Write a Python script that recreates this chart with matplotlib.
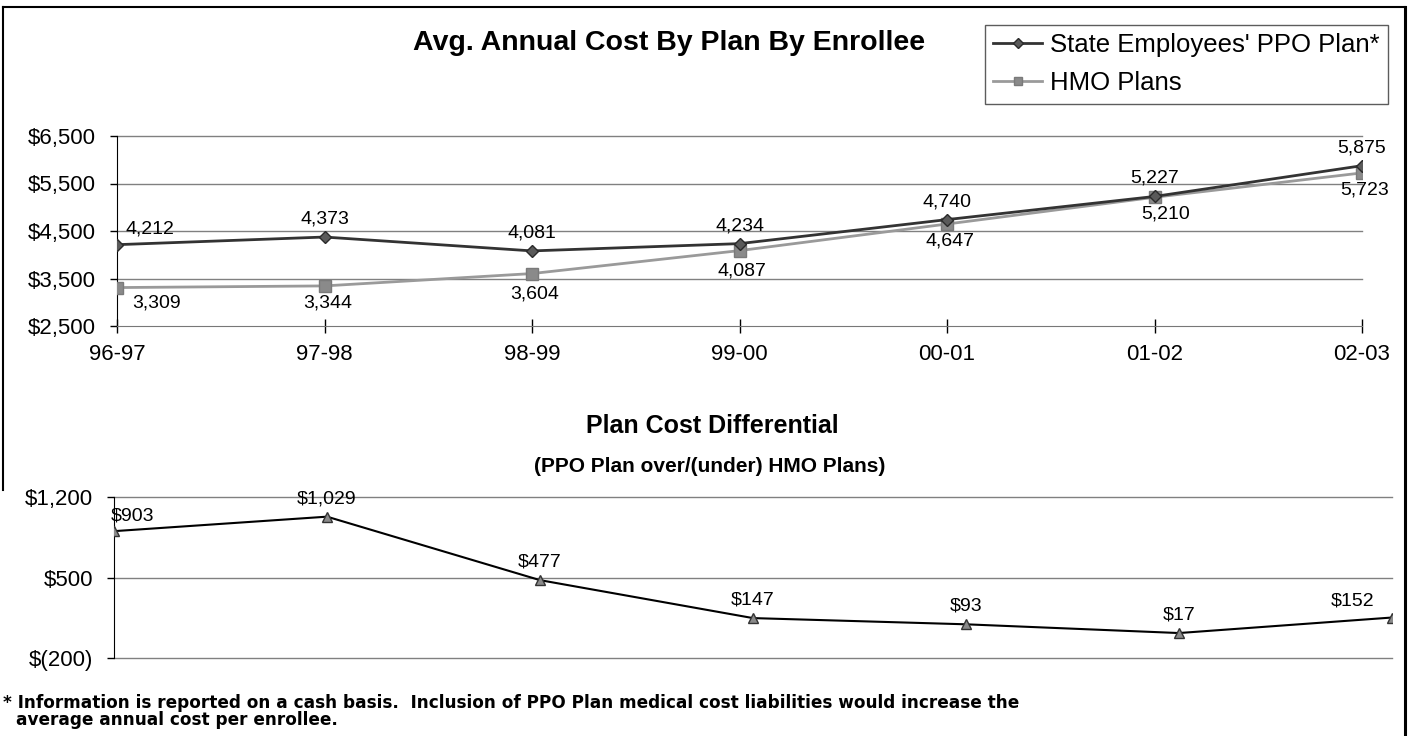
import matplotlib.pyplot as plt
from matplotlib.lines import Line2D
from matplotlib.ticker import FuncFormatter

plt.rcParams['font.family'] = ['Liberation Sans', 'DejaVu Sans']

# fiscal years and average annual cost per enrollee
years = ['96-97', '97-98', '98-99', '99-00', '00-01', '01-02', '02-03']
ppo = [4212, 4373, 4081, 4234, 4740, 5227, 5875]
hmo = [3309, 3344, 3604, 4087, 4647, 5210, 5723]
# PPO over/(under) HMO
diff = [903, 1029, 477, 147, 93, 17, 152]

top_ticks = [2500, 3500, 4500, 5500, 6500]
bottom_ticks = [-200, 500, 1200]

W, H = 1414, 736


def box(left, top, right, bottom):
    # pixel box -> figure fraction rect
    return [left / W, 1 - bottom / H, (right - left) / W, (bottom - top) / H]


def money(v, pos=None):
    if v < 0:
        return '$({:,.0f})'.format(-v)
    return '${:,.0f}'.format(v)


fig = plt.figure(figsize=(W / 100, H / 100), dpi=100)

# border around the whole page
fig.add_artist(Line2D([3 / W, 1405 / W], [1 - 7 / H, 1 - 7 / H], color='black', lw=1.5))
fig.add_artist(Line2D([1405 / W, 1405 / W], [1 - 7 / H, 0], color='black', lw=2.2))
fig.add_artist(Line2D([3 / W, 3 / W], [1 - 7 / H, 1 - 490 / H], color='black', lw=1.5))

x = list(range(len(years)))

# ---- top chart: cost by plan
ax1 = fig.add_axes(box(117, 136, 1362, 326))
l1, = ax1.plot(x, ppo, color='#333333', lw=2, marker='D', ms=6.5,
               mfc='#5a5a5a', mec='#2a2a2a', zorder=4)
l2, = ax1.plot(x, hmo, color='#9a9a9a', lw=2, marker='s', ms=8,
               mfc='#8a8a8a', mec='#7a7a7a', zorder=3)
ax1.set_xlim(0, 6)
ax1.set_ylim(2500, 6500)
ax1.set_yticks(top_ticks)
ax1.yaxis.set_major_formatter(FuncFormatter(money))
ax1.set_xticks(x)
ax1.set_xticklabels(years)
for t in top_ticks[1:]:
    ax1.axhline(t, color='#808080', lw=1, zorder=1, clip_on=False)
for s in ['top', 'right']:
    ax1.spines[s].set_visible(False)
ax1.spines['bottom'].set_color('#777777')
ax1.spines['left'].set_color('black')
ax1.tick_params(axis='y', direction='out', length=5, width=1, labelsize=16, pad=10)
ax1.tick_params(axis='x', direction='inout', length=10, width=1, labelsize=16, pad=8)

for i, v in enumerate(ppo):
    if i == 0:
        ax1.annotate('{:,}'.format(v), (i, v), xytext=(6, 11), textcoords='offset points',
                     ha='left', va='center', fontsize=14)
    else:
        ax1.annotate('{:,}'.format(v), (i, v), xytext=(0, 13), textcoords='offset points',
                     ha='center', va='center', fontsize=14)
for i, v in enumerate(hmo):
    if i == 0:
        ax1.annotate('{:,}'.format(v), (i, v), xytext=(11, -11), textcoords='offset points',
                     ha='left', va='center', fontsize=14)
    else:
        dx = 8 if i == 5 else 2
        dy = -15 if i in (2, 3) else -12
        ax1.annotate('{:,}'.format(v), (i, v), xytext=(dx, dy), textcoords='offset points',
                     ha='center', va='center', fontsize=14)

fig.text(669 / W, 1 - 43 / H, 'Avg. Annual Cost By Plan By Enrollee',
         ha='center', va='center', fontsize=20.5, weight='bold')

leg = fig.legend([l1, l2], ["State Employees' PPO Plan*", 'HMO Plans'],
                 loc='upper left', bbox_to_anchor=(985 / W, 1 - 25 / H),
                 fontsize=18.5, frameon=True, fancybox=False, edgecolor='#333333',
                 handlelength=1.9, handletextpad=0.3, labelspacing=0.55,
                 borderpad=0.32, borderaxespad=0, markerscale=0.8)
leg.get_frame().set_linewidth(1)

# ---- bottom chart: plan cost differential
ax2 = fig.add_axes(box(114, 497, 1392, 658))
ax2.plot(x, diff, color='black', lw=1.5, marker='^', ms=7.5,
         mfc='#8a8a8a', mec='#333333', zorder=4)
ax2.set_xlim(0, 6)
ax2.set_ylim(-200, 1200)
ax2.set_yticks(bottom_ticks)
ax2.yaxis.set_major_formatter(FuncFormatter(money))
ax2.set_xticks([])
for t in bottom_ticks:
    ax2.axhline(t, color='#808080', lw=1, zorder=1, clip_on=False)
for s in ['top', 'right', 'bottom']:
    ax2.spines[s].set_visible(False)
ax2.spines['left'].set_color('black')
ax2.tick_params(axis='y', direction='out', length=5, width=1, labelsize=16, pad=10)

for i, v in enumerate(diff):
    if i == 0:
        xy, ha = (-2, 11), 'left'
    elif i == len(diff) - 1:
        xy, ha = (-13, 12), 'right'
    else:
        xy, ha = (0, 13), 'center'
    ax2.annotate(money(v), (i, v), xytext=xy, textcoords='offset points',
                 ha=ha, va='center', fontsize=14)

fig.text(712 / W, 1 - 426 / H, 'Plan Cost Differential',
         ha='center', va='center', fontsize=18, weight='bold')
fig.text(710 / W, 1 - 466 / H, '(PPO Plan over/(under) HMO Plans)',
         ha='center', va='center', fontsize=15, weight='bold')

note_font = dict(ha='left', va='center', fontsize=12.2, weight='bold', family='DejaVu Sans')
fig.text(3 / W, 1 - 703 / H,
         '* Information is reported on a cash basis.  Inclusion of PPO Plan medical cost '
         'liabilities would increase the', **note_font)
fig.text(16 / W, 1 - 720 / H, 'average annual cost per enrollee.', **note_font)

fig.savefig('out.png', dpi=100)
